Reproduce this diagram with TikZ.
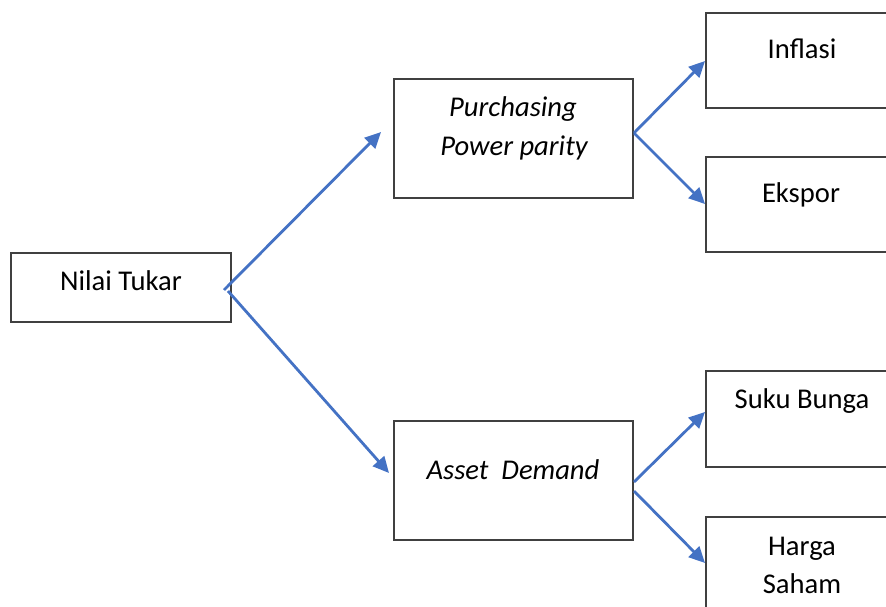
\documentclass[tikz,border=0pt]{standalone}
\usepackage{fontspec}
\setmainfont{Carlito}
\usetikzlibrary{arrows.meta}
\definecolor{arrowblue}{HTML}{4472C4}
\definecolor{boxgray}{HTML}{404040}
\begin{document}
\begin{tikzpicture}[x=1pt,y=-1pt,
  box/.style={draw=boxgray,line width=1.8pt,inner sep=0pt,outer sep=0pt,anchor=north west},
  lbl/.style={font=\fontsize{28.6}{38}\selectfont,inner sep=0pt,anchor=base},
  conn/.style={draw=arrowblue,line width=2.8pt,-{Triangle[length=16pt,width=15pt]}}]
\useasboundingbox (0,0) rectangle (886,607);
\begin{scope}
\clip (0,0) rectangle (886,607);
% boxes
\node[box,minimum width=220,minimum height=69] (nt) at (11,253) {};
\node[box,minimum width=239,minimum height=119] (ppp) at (394,79) {};
\node[box,minimum width=239,minimum height=119] (ad) at (394,421) {};
\node[box,minimum width=192,minimum height=95] (inf) at (706,13) {};
\node[box,minimum width=192,minimum height=95] (eks) at (706,157) {};
\node[box,minimum width=192,minimum height=96] (suk) at (706,371) {};
\node[box,minimum width=192,minimum height=100] (har) at (706,517) {};
% texts
\node[lbl] (tnt) at (121,290) {Nilai Tukar};
\node[lbl] (tppp1) at (513,117) {\itshape Purchasing};
\node[lbl] (tppp2) at (514,155) {\itshape Power parity};
\node[lbl] (tad) at (513,479) {\itshape Asset\ \ Demand};
\node[lbl] (tinf) at (802,59) {Inflasi};
\node[lbl] (teks) at (801,202) {Ekspor};
\node[lbl] (tsuk) at (802,408) {Suku Bunga};
\node[lbl] (thar1) at (802,555) {Harga};
\node[lbl] (thar2) at (802,593) {Saham};
% connector ends
\coordinate (ntA) at (224,290);
\coordinate (ntB) at (228,291);
\coordinate (pppE) at (381,132);
\coordinate (adE) at (389,473);
\coordinate (pppS) at (634,133);
\coordinate (infE) at (705,61);
\coordinate (eksE) at (705,204);
\coordinate (adSa) at (634,482);
\coordinate (adSb) at (634,491);
\coordinate (sukE) at (705,412);
\coordinate (harE) at (705,563);
% connectors
\draw[conn] (ntA) -- (pppE);
\draw[conn] (ntB) -- (adE);
\draw[conn] (pppS) -- (infE);
\draw[conn] (pppS) -- (eksE);
\draw[conn] (adSa) -- (sukE);
\draw[conn] (adSb) -- (harE);
\end{scope}
\end{tikzpicture}
\end{document}
